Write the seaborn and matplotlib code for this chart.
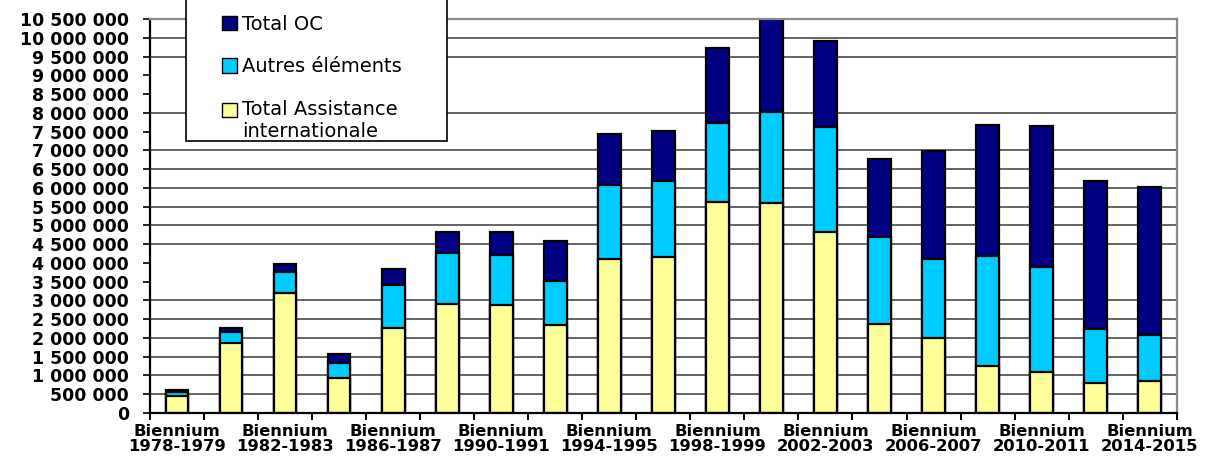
import matplotlib
matplotlib.use("Agg")
import matplotlib.pyplot as plt
from matplotlib.patches import Patch, Rectangle
from matplotlib.legend_handler import HandlerPatch
from matplotlib.ticker import FixedLocator
import seaborn as sns
import pandas as pd

# Biennium periods
biennia = ["1978-1979", "1980-1981", "1982-1983", "1984-1985", "1986-1987",
           "1988-1989", "1990-1991", "1992-1993", "1994-1995", "1996-1997",
           "1998-1999", "2000-2001", "2002-2003", "2004-2005", "2006-2007",
           "2008-2009", "2010-2011", "2012-2013", "2014-2015"]

# Amounts per biennium (stack order: bottom to top)
assistance_internationale = [460000, 1870000, 3210000, 930000, 2260000,
                             2900000, 2870000, 2350000, 4110000, 4150000,
                             5630000, 5590000, 4820000, 2360000, 2010000,
                             1240000, 1090000, 790000, 840000]
autres_elements = [90000, 300000, 540000, 410000, 1150000,
                   1370000, 1340000, 1170000, 1970000, 2040000,
                   2090000, 2440000, 2810000, 2320000, 2100000,
                   2950000, 2790000, 1440000, 1240000]
total_oc = [50000, 90000, 220000, 230000, 440000,
            550000, 610000, 1060000, 1350000, 1330000,
            2000000, 2500000, 2290000, 2080000, 2880000,
            3490000, 3760000, 3960000, 3930000]

series_names = ["Total OC", "Autres éléments", "Total Assistance\ninternationale"]
series_colors = ["#000080", "#00CCFF", "#FFFF99"]

y_ticks = list(range(0, 10500001, 500000))
grid_levels = [500000, 1000000, 1500000, 2000000, 2500000, 3000000,
               4500000, 5000000, 5500000, 6000000, 6500000, 7000000,
               8000000, 9500000, 10000000]

df = pd.DataFrame({
    "biennium": biennia,
    "assistance": assistance_internationale,
    "autres": autres_elements,
    "oc": total_oc,
})
df["lvl1"] = df["assistance"]
df["lvl2"] = df["assistance"] + df["autres"]
df["lvl3"] = df["lvl2"] + df["oc"]

W, H = 1205, 459
fig = plt.figure(figsize=(W / 100, H / 100), dpi=100)
ax = fig.add_axes([150 / W, 1 - 413 / H, (1176.7 - 150) / W, (413 - 19) / H])

# Horizontal rules behind the bars
for lvl in grid_levels:
    ax.axhline(lvl, color="#3a3a3a", linewidth=1.1, zorder=0.5)

# Stacked bars: draw cumulative heights from the top layer down
for col, color in zip(["lvl3", "lvl2", "lvl1"], series_colors):
    sns.barplot(data=df, x="biennium", y=col, order=biennia, color=color,
                saturation=1, width=0.42, edgecolor="black", linewidth=1.6,
                ax=ax, zorder=1)

ax.set_xlim(-0.5, len(biennia) - 0.5)
ax.set_ylim(0, 10500000)
ax.set_xlabel("")
ax.set_ylabel("")

# y axis
ax.set_yticks(y_ticks)
ax.set_yticklabels([f"{v:,}".replace(",", " ") for v in y_ticks],
                   fontdict=dict(family="DejaVu Sans", weight="bold", size=12.5))
ax.tick_params(axis="y", length=5.3, width=1.2, pad=10, color="black")

# x axis: labels under every other bar, tick marks between bars
label_pos = list(range(0, len(biennia), 2))
ax.set_xticks(label_pos)
ax.set_xticklabels([f"Biennium\n{biennia[i]}" for i in label_pos],
                   fontdict=dict(family="DejaVu Sans", weight="bold", size=11.8),
                   linespacing=1.02)
ax.xaxis.set_minor_locator(FixedLocator([i - 0.5 for i in range(len(biennia) + 1)]))
ax.tick_params(axis="x", which="major", length=0, pad=8)
ax.tick_params(axis="x", which="minor", length=5, width=1.4, color="black")

for side in ["left", "bottom"]:
    ax.spines[side].set_color("black")
    ax.spines[side].set_linewidth(1.6)
for side in ["top", "right"]:
    ax.spines[side].set_color("#8a8a8a")
    ax.spines[side].set_linewidth(1.6)

# Legend box
frame = Rectangle((186 / W, 1 - 141 / H), (447 - 186) / W, 150 / H,
                  transform=fig.transFigure, facecolor="white",
                  edgecolor="black", linewidth=1.2, zorder=2)
fig.add_artist(frame)


def top_line_square(legend, orig_handle, xdescent, ydescent, width, height, fontsize):
    # square aligned with the first line of a two-line label
    return Rectangle((-xdescent, -ydescent + 0.55 * fontsize), width, height)


handles = [Patch(facecolor=c, edgecolor="black", linewidth=1.0) for c in series_colors]
leg = fig.legend(handles, series_names, loc="upper left",
                 bbox_to_anchor=(222 / W, 1 - 15 / H), bbox_transform=fig.transFigure,
                 frameon=False, borderpad=0, borderaxespad=0,
                 handlelength=0.75, handleheight=0.75, handletextpad=0.3,
                 labelspacing=1.2,
                 handler_map={handles[2]: HandlerPatch(patch_func=top_line_square)},
                 prop=dict(family="DejaVu Sans", size=14))
leg.set_zorder(3)

fig.savefig("out.png", dpi=100)
